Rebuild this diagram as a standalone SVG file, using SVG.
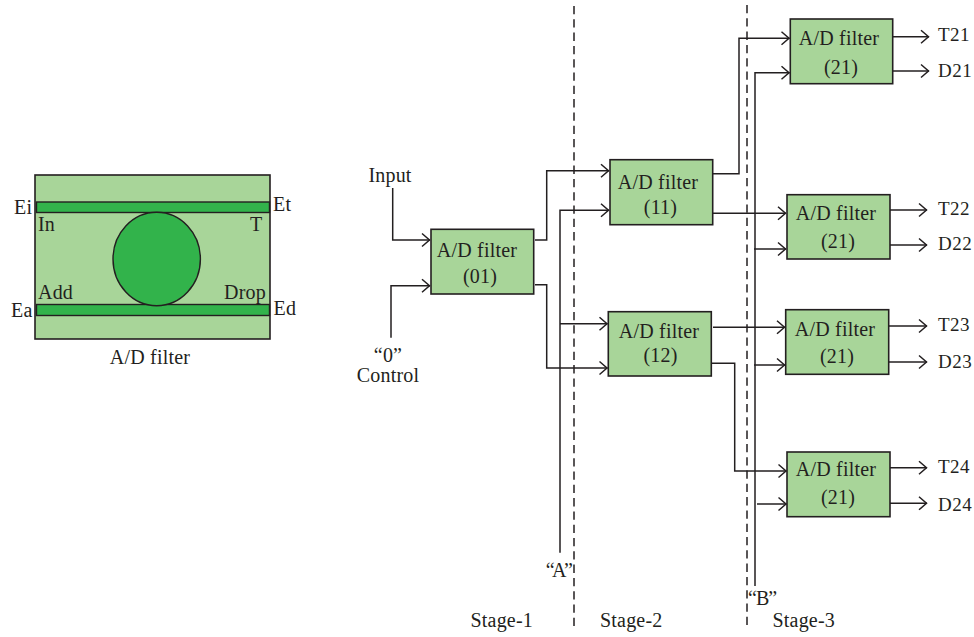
<svg xmlns="http://www.w3.org/2000/svg" width="974" height="637" viewBox="0 0 974 637">
<style>
text{font-family:"Liberation Serif","Times New Roman",serif;font-size:20px;letter-spacing:.2px;fill:#231f20}
.o{font-size:19px;letter-spacing:.5px}
.m{text-anchor:middle}
.box{fill:#a8d599;stroke:#231f20;stroke-width:1.6}
.bar{fill:#32b34b;stroke:#231f20;stroke-width:1.4}
.c{fill:none;stroke:#231f20;stroke-width:1.5}
.a{marker-end:url(#arr)}
.d{fill:none;stroke:#231f20;stroke-width:1.5;stroke-dasharray:8.3 5}
</style>
<defs>
<marker id="arr" markerUnits="userSpaceOnUse" markerWidth="12" markerHeight="16" refX="10" refY="8" orient="auto">
<path d="M2 1.5L9.5 8L2 14.5" fill="none" stroke="#231f20" stroke-width="1.5"/>
</marker>
</defs>
<g id="legend">
<rect class="box" x="35" y="175" width="235" height="164"/>
<rect class="bar" x="36.5" y="202" width="233" height="10.5"/>
<rect class="bar" x="36.5" y="304.5" width="233" height="11"/>
<ellipse class="bar" cx="156.7" cy="259" rx="43.7" ry="46.7"/>
<text x="14" y="213.5">Ei</text>
<text x="38" y="231">In</text>
<text x="273" y="211">Et</text>
<text x="250" y="231">T</text>
<text x="38" y="299">Add</text>
<text x="224" y="299">Drop</text>
<text x="11" y="316.5">Ea</text>
<text x="273.5" y="314.5">Ed</text>
<text class="m" x="150" y="363.5">A/D filter</text>
</g>
<g id="connectors">
<path class="c a" d="M392.7 188V240H430"/>
<path class="c a" d="M391 337.7V285.7H430"/>
<path class="c a" d="M535 240H546.7V170.7H609"/>
<path class="c a" d="M535 284.7H546.7V368H607.5"/>
<path class="c a" d="M560 552.7V210.3H609"/>
<path class="c a" d="M560 323.7H607.5"/>
<path class="c a" d="M713 173.7H739V38.3H789.5"/>
<path class="c a" d="M713 213.3H786"/>
<path class="c a" d="M755 586V72.7H789.5"/>
<path class="c a" d="M754 249H786"/>
<path class="c a" d="M754 365H785"/>
<path class="c a" d="M757 504H786.5"/>
<path class="c a" d="M713 327.3H785"/>
<path class="c a" d="M712 363.3H734.7V471H786.5"/>
<path class="c a" d="M893 36.7H929"/>
<path class="c a" d="M893 71H929"/>
<path class="c a" d="M890 210H927"/>
<path class="c a" d="M890 245H927"/>
<path class="c a" d="M889 326H927"/>
<path class="c a" d="M889 362H927"/>
<path class="c a" d="M890 467.7H927"/>
<path class="c a" d="M890 503.3H927"/>
<path class="d" d="M574 6V628"/>
<path class="d" d="M747 5V628"/>
</g>
<g id="f01"><rect class="box" x="431" y="229.3" width="102.7" height="64.7"/><text class="m" x="477" y="257">A/D filter</text><text class="m" x="480" y="282.5">(01)</text></g>
<g id="f11"><rect class="box" x="610" y="159.7" width="102.7" height="65"/><text class="m" x="658" y="189">A/D filter</text><text class="m" x="660.5" y="214">(11)</text></g>
<g id="f12"><rect class="box" x="608.3" y="311.7" width="103" height="64.3"/><text class="m" x="659" y="338">A/D filter</text><text class="m" x="660.5" y="361.5">(12)</text></g>
<g id="f21a"><rect class="box" x="790.3" y="19" width="102.4" height="64.7"/><text class="m" x="839" y="45">A/D filter</text><text class="m" x="841" y="74">(21)</text></g>
<g id="f21b"><rect class="box" x="787" y="194.7" width="103" height="64.3"/><text class="m" x="836" y="220">A/D filter</text><text class="m" x="838" y="248">(21)</text></g>
<g id="f21c"><rect class="box" x="785.7" y="309.7" width="103" height="64.6"/><text class="m" x="835" y="335.5">A/D filter</text><text class="m" x="837" y="362.5">(21)</text></g>
<g id="f21d"><rect class="box" x="787" y="452" width="103" height="64.7"/><text class="m" x="836" y="475.5">A/D filter</text><text class="m" x="838" y="504">(21)</text></g>
<g id="labels">
<text class="m" x="390" y="182">Input</text>
<text class="m" x="388" y="361.5">“0”</text>
<text class="m" x="388" y="381.5">Control</text>
<text class="o" x="938" y="41">T21</text>
<text class="o" x="938" y="77">D21</text>
<text class="o" x="938" y="215">T22</text>
<text class="o" x="938" y="250">D22</text>
<text class="o" x="938" y="331">T23</text>
<text class="o" x="938" y="368">D23</text>
<text class="o" x="938" y="473">T24</text>
<text class="o" x="938" y="511">D24</text>
<text class="m" x="558" y="576.5" style="letter-spacing:-2.5px">“A”</text>
<text x="748" y="605" style="letter-spacing:-1px">“B”</text>
<text x="470.5" y="627">Stage-1</text>
<text x="600" y="627">Stage-2</text>
<text x="772.5" y="627">Stage-3</text>
</g>
</svg>
